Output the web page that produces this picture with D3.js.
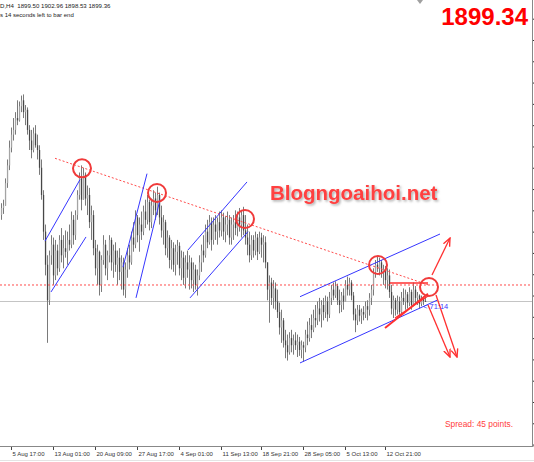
<!DOCTYPE html>
<html>
<head>
<meta charset="utf-8">
<script src="https://cdn.jsdelivr.net/npm/d3@7"></script>
<style>
  body { margin: 0; background: #fff; }
  svg { display: block; font-family: "Liberation Sans", Arial, sans-serif; }
</style>
</head>
<body>
<div id="chart"></div>
<script>
// XAUUSD H4 (open of a bar = close of the bar before)
const firstOpen = 1972;
const highs = [
  1982, 1985, 2003, 2019, 2035, 2046, 2054, 2059, 2069, 2068,
  2073, 2074, 2065, 2063, 2048, 2044, 2046, 2048, 2040, 2031,
  2019, 1993, 1964, 1938, 1942, 1955, 1953, 1951, 1947, 1955,
  1961, 1955, 1959, 1958, 1964, 1975, 1972, 1976, 1993, 2008,
  2014, 2012, 2008, 1997, 1995, 1980, 1976, 1951, 1947, 1942,
  1938, 1955, 1951, 1942, 1955, 1953, 1947, 1949, 1942, 1944,
  1938, 1936, 1932, 1944, 1947, 1958, 1966, 1976, 1972, 1970,
  1975, 1980, 1985, 1989, 1985, 1986, 1993, 1991, 1996, 1991,
  1980, 1972, 1968, 1959, 1955, 1951, 1949, 1947, 1951, 1949,
  1942, 1941, 1938, 1942, 1938, 1936, 1932, 1930, 1926, 1938,
  1947, 1955, 1964, 1968, 1972, 1970, 1970, 1972, 1970, 1975,
  1976, 1974, 1971, 1975, 1972, 1970, 1972, 1976, 1975, 1978,
  1976, 1979, 1972, 1964, 1958, 1955, 1955, 1958, 1956, 1958,
  1957, 1955, 1954, 1932, 1921, 1919, 1917, 1915, 1909, 1898,
  1892, 1885, 1875, 1871, 1873, 1875, 1871, 1873, 1871, 1869,
  1866, 1865, 1875, 1882, 1885, 1888, 1892, 1896, 1899, 1902,
  1900, 1902, 1904, 1903, 1907, 1913, 1915, 1916, 1914, 1909,
  1907, 1910, 1917, 1920, 1919, 1917, 1907, 1893, 1896, 1896,
  1893, 1895, 1899, 1900, 1906, 1913, 1927, 1934, 1937, 1936,
  1934, 1930, 1929, 1927, 1926, 1913, 1904, 1902, 1904, 1903,
  1907, 1910, 1909, 1907, 1911, 1909, 1915, 1912, 1907, 1905,
  1904, 1903, 1902.96
];
const lows = [
  1968, 1973, 1980, 1995, 2010, 2025, 2035, 2040, 2048, 2051,
  2059, 2054, 2048, 2040, 2027, 2020, 2025, 2029, 2019, 2006,
  1985, 1951, 1921, 1864, 1896, 1930, 1913, 1917, 1921, 1924,
  1932, 1927, 1936, 1930, 1942, 1944, 1947, 1951, 1968, 1985,
  1976, 1989, 1980, 1972, 1961, 1951, 1938, 1921, 1913, 1904,
  1907, 1930, 1921, 1917, 1932, 1925, 1919, 1924, 1913, 1917,
  1909, 1904, 1902, 1919, 1926, 1930, 1941, 1944, 1949, 1941,
  1951, 1955, 1961, 1964, 1959, 1961, 1972, 1968, 1972, 1964,
  1953, 1947, 1938, 1936, 1927, 1926, 1924, 1921, 1930, 1921,
  1917, 1913, 1910, 1919, 1909, 1910, 1907, 1909, 1904, 1917,
  1924, 1932, 1936, 1944, 1947, 1942, 1947, 1951, 1947, 1953,
  1954, 1951, 1949, 1955, 1947, 1947, 1951, 1955, 1954, 1958,
  1953, 1955, 1947, 1938, 1932, 1934, 1936, 1938, 1934, 1939,
  1936, 1932, 1927, 1900, 1881, 1896, 1893, 1892, 1885, 1871,
  1864, 1860, 1851, 1849, 1854, 1856, 1854, 1858, 1852, 1853,
  1851, 1848, 1856, 1862, 1865, 1868, 1873, 1877, 1879, 1882,
  1877, 1883, 1885, 1882, 1885, 1896, 1900, 1902, 1896, 1889,
  1890, 1892, 1900, 1904, 1904, 1900, 1883, 1873, 1879, 1882,
  1880, 1883, 1885, 1883, 1887, 1896, 1904, 1919, 1924, 1921,
  1919, 1913, 1910, 1909, 1902, 1888, 1885, 1887, 1888, 1886,
  1889, 1896, 1892, 1893, 1895, 1892, 1895, 1897, 1896, 1893,
  1895, 1896, 1898.53
];
const closes = [
  1978, 1980, 1999, 2014, 2029, 2040, 2044, 2054, 2052, 2064,
  2069, 2059, 2061, 2044, 2035, 2027, 2041, 2031, 2027, 2012,
  1989, 1958, 1930, 1900, 1938, 1947, 1921, 1942, 1927, 1951,
  1938, 1944, 1941, 1951, 1947, 1968, 1955, 1972, 1989, 2003,
  1985, 2006, 1986, 1989, 1966, 1972, 1944, 1927, 1941, 1913,
  1934, 1947, 1927, 1938, 1951, 1932, 1942, 1930, 1936, 1924,
  1932, 1909, 1926, 1938, 1932, 1953, 1947, 1970, 1955, 1964,
  1958, 1975, 1968, 1983, 1966, 1980, 1986, 1976, 1989, 1970,
  1959, 1966, 1944, 1953, 1934, 1944, 1930, 1941, 1946, 1927,
  1936, 1919, 1932, 1926, 1932, 1917, 1926, 1913, 1921, 1932,
  1942, 1938, 1958, 1949, 1966, 1951, 1964, 1958, 1966, 1959,
  1970, 1958, 1964, 1968, 1953, 1964, 1966, 1961, 1970, 1964,
  1972, 1959, 1953, 1947, 1938, 1951, 1942, 1953, 1941, 1953,
  1947, 1949, 1932, 1909, 1915, 1902, 1910, 1899, 1890, 1877,
  1883, 1866, 1862, 1856, 1868, 1862, 1866, 1862, 1865, 1858,
  1862, 1860, 1871, 1868, 1879, 1875, 1885, 1883, 1893, 1888,
  1896, 1890, 1899, 1888, 1902, 1909, 1904, 1912, 1900, 1896,
  1904, 1899, 1913, 1909, 1915, 1904, 1888, 1883, 1892, 1887,
  1890, 1888, 1895, 1892, 1902, 1909, 1924, 1930, 1927, 1932,
  1924, 1926, 1917, 1921, 1907, 1893, 1900, 1892, 1899, 1890,
  1902, 1899, 1905, 1898, 1907, 1896, 1909, 1902, 1904, 1897,
  1901, 1899.5, 1899.36
];

const timeLabels = ['5 Aug 17:00', '13 Aug 01:00', '20 Aug 09:00', '27 Aug 17:00', '4 Sep 01:00',
  '11 Sep 13:00', '18 Sep 21:00', '28 Sep 05:00', '5 Oct 13:00', '12 Oct 21:00'];
const timeTickBars = [5, 26, 47, 68, 89, 110, 130, 151, 172, 192];
const priceTicks = [2138, 2120, 2102, 2084, 2066, 2048, 2030, 2012, 1994, 1976, 1958,
  1940, 1922, 1904, 1886, 1868, 1850, 1832, 1814, 1796, 1778];

// drawn objects, as [bar index, price]
const resistanceLine = [[27, 2020], [214.5, 1912.5]];
const levelPrice = 1912.9;
const channelLines = [
  [[22, 1950], [39.5, 2002]],
  [[25, 1907], [42.5, 1953.5]],
  [[61, 1928], [73, 2007]],
  [[67.5, 1902], [79.5, 1985]],
  [[93.5, 1942.5], [123, 2000]],
  [[94.5, 1902], [123.5, 1958]],
  [[149.5, 1903], [219.5, 1956]],
  [[149.5, 1847], [218, 1900]]
];
const redLines = [
  [[194.5, 1914.6], [213.5, 1914.6]],
  [[192, 1876.5], [213.5, 1905.5]],
  [[197, 1885], [213.5, 1903.6]]
];
const arrowLines = [
  [[215.5, 1921.3], [224.5, 1952.6]],
  [[213.5, 1896], [224.5, 1852]],
  [[217.5, 1904.4], [228, 1852]]
];
const circleMarks = [[40.5, 2011.5], [78, 1990.7], [122, 1968.7], [188.5, 1929.8], [214, 1911.2]];
const timerLabel = { bar: 211, price: 1892.6, text: '< 71:14' };
const spreadPoints = 45;
const bigPrice = '1899.34';

const width = 534;
const height = 462;
const plotRight = 533;
const plotBottom = 447;

const bars = closes.map((c, i) => {
  const o = i === 0 ? firstOpen : closes[i - 1];
  return { i, o, c, h: Math.max(highs[i], o, c), l: Math.min(lows[i], o, c) };
});

const x = d3.scaleLinear().domain([0, bars.length - 1]).range([1, 425]);
const y = d3.scaleLinear().domain([1776.8, 2153.8]).range([446, 0]);

const svg = d3.select('#chart').append('svg')
    .attr('width', width)
    .attr('height', height);

const defs = svg.append('defs');
defs.append('filter').attr('id', 'shadow')
    .attr('x', '-10%').attr('y', '-30%').attr('width', '120%').attr('height', '160%')
  .append('feDropShadow')
    .attr('dx', 1.5).attr('dy', 1.5).attr('stdDeviation', 1.2)
    .attr('flood-color', '#777').attr('flood-opacity', 0.6);
defs.append('marker').attr('id', 'arrow')
    .attr('viewBox', '0 0 8 8').attr('refX', 7).attr('refY', 4)
    .attr('markerWidth', 7).attr('markerHeight', 7).attr('orient', 'auto')
  .append('path')
    .attr('d', 'M0,1 L7,4 L0,7')
    .attr('fill', 'none').attr('stroke', '#ff3030').attr('stroke-width', 1.2);

// bid line
svg.append('line')
    .attr('x1', 0).attr('x2', plotRight)
    .attr('y1', Math.round(y(closes[closes.length - 1])) + 0.5)
    .attr('y2', Math.round(y(closes[closes.length - 1])) + 0.5)
    .attr('stroke', '#c4c4c4');

// candles
const candle = svg.append('g').selectAll('g')
    .data(bars)
  .enter().append('g');

candle.append('line')
    .attr('x1', (d) => Math.round(x(d.i)) + 0.5)
    .attr('x2', (d) => Math.round(x(d.i)) + 0.5)
    .attr('y1', (d) => y(d.h))
    .attr('y2', (d) => y(d.l))
    .attr('stroke', '#7a7a7a');

candle.append('rect')
    .attr('x', (d) => x(d.i) - 0.1)
    .attr('width', 1.3)
    .attr('y', (d) => y(Math.max(d.o, d.c)))
    .attr('height', (d) => Math.max(1, Math.abs(y(d.o) - y(d.c))))
    .attr('fill', (d) => d.c >= d.o ? '#a4a4a4' : '#474747');

// horizontal level and resistance (dotted red)
svg.append('line')
    .attr('x1', 0).attr('x2', plotRight)
    .attr('y1', y(levelPrice)).attr('y2', y(levelPrice))
    .attr('stroke', '#ff4a4a').attr('stroke-dasharray', '2,2');

svg.append('line')
    .attr('x1', x(resistanceLine[0][0])).attr('y1', y(resistanceLine[0][1]))
    .attr('x2', x(resistanceLine[1][0])).attr('y2', y(resistanceLine[1][1]))
    .attr('stroke', '#ff4a4a').attr('stroke-dasharray', '2,2');

// blue channels
svg.append('g').selectAll('line')
    .data(channelLines)
  .enter().append('line')
    .attr('x1', (d) => x(d[0][0])).attr('y1', (d) => y(d[0][1]))
    .attr('x2', (d) => x(d[1][0])).attr('y2', (d) => y(d[1][1]))
    .attr('stroke', '#3636ff');

// red lines and arrows
svg.append('g').selectAll('line')
    .data(redLines)
  .enter().append('line')
    .attr('x1', (d) => x(d[0][0])).attr('y1', (d) => y(d[0][1]))
    .attr('x2', (d) => x(d[1][0])).attr('y2', (d) => y(d[1][1]))
    .attr('stroke', '#ff3030').attr('stroke-width', (d, k) => k === 1 ? 2 : 1.3);

svg.append('g').selectAll('line')
    .data(arrowLines)
  .enter().append('line')
    .attr('x1', (d) => x(d[0][0])).attr('y1', (d) => y(d[0][1]))
    .attr('x2', (d) => x(d[1][0])).attr('y2', (d) => y(d[1][1]))
    .attr('stroke', '#ff3030').attr('stroke-width', 1.3)
    .attr('marker-end', 'url(#arrow)');

svg.append('g').selectAll('circle')
    .data(circleMarks)
  .enter().append('circle')
    .attr('cx', (d) => x(d[0])).attr('cy', (d) => y(d[1]))
    .attr('r', 9)
    .attr('fill', 'none').attr('stroke', '#f03a3a').attr('stroke-width', 2);

svg.append('text')
    .attr('x', x(timerLabel.bar)).attr('y', y(timerLabel.price))
    .attr('fill', '#3a3aff').style('font-size', '7.5px')
    .text(timerLabel.text);

// axes and frame
const xAxis = d3.axisBottom(x)
    .tickValues(timeTickBars)
    .tickFormat((d, k) => timeLabels[k])
    .tickSize(3)
    .tickPadding(1.5);

svg.append('g')
    .attr('transform', `translate(0,${plotBottom})`)
    .call(xAxis)
    .call((g) => g.select('.domain').remove())
    .call((g) => g.selectAll('.tick line').attr('stroke', '#444'))
    .call((g) => g.selectAll('.tick text')
        .attr('text-anchor', 'start').attr('dx', 1)
        .attr('fill', '#333')
        .style('font-size', '6px')
        .style('font-family', '"Liberation Sans", Arial, sans-serif'));

svg.append('g')
    .attr('transform', `translate(${plotRight},0)`)
    .call(d3.axisRight(y).tickValues(priceTicks).tickSize(3).tickFormat(''))
    .call((g) => g.select('.domain').remove())
    .call((g) => g.selectAll('.tick line').attr('stroke', '#333'));

svg.append('line')
    .attr('x1', 0).attr('x2', plotRight + 0.5)
    .attr('y1', plotBottom - 0.5).attr('y2', plotBottom - 0.5)
    .attr('stroke', '#888');
svg.append('line')
    .attr('x1', plotRight - 0.5).attr('x2', plotRight - 0.5)
    .attr('y1', 0).attr('y2', plotBottom)
    .attr('stroke', '#888');
svg.append('line')
    .attr('x1', 0).attr('x2', width)
    .attr('y1', height - 1.5).attr('y2', height - 1.5)
    .attr('stroke', '#e4e4e4');

// chart shift marker
svg.append('path')
    .attr('d', 'M417,0 L423,0 L420,4 Z')
    .attr('fill', '#a0a0a0');

// header texts
const last = bars[bars.length - 1];
svg.append('text')
    .attr('x', 0).attr('y', 7.5)
    .attr('fill', '#222').style('font-size', '6.1px')
    .attr('xml:space', 'preserve')
    .text(`D,H4  ${last.o.toFixed(2)} ${last.h.toFixed(2)} ${last.l.toFixed(2)} ${last.c.toFixed(2)}`);
svg.append('text')
    .attr('x', 0).attr('y', 16.5)
    .attr('fill', '#222').style('font-size', '6px')
    .text(`s 14 seconds left to bar end`);

svg.append('text')
    .attr('x', 528).attr('y', 25)
    .attr('text-anchor', 'end')
    .attr('fill', '#ff0000')
    .style('font-size', '24px').style('font-weight', 'bold')
    .text(bigPrice);

svg.append('text')
    .attr('x', 270).attr('y', 200)
    .attr('fill', '#ff4040')
    .attr('filter', 'url(#shadow)')
    .style('font-size', '20.5px').style('font-weight', 'bold')
    .text(`Blogngoaihoi.net`);

svg.append('text')
    .attr('x', 445).attr('y', 426.5)
    .attr('fill', '#ff4040')
    .style('font-size', '8.4px')
    .text(`Spread: ${spreadPoints} points.`);
</script>
</body>
</html>
